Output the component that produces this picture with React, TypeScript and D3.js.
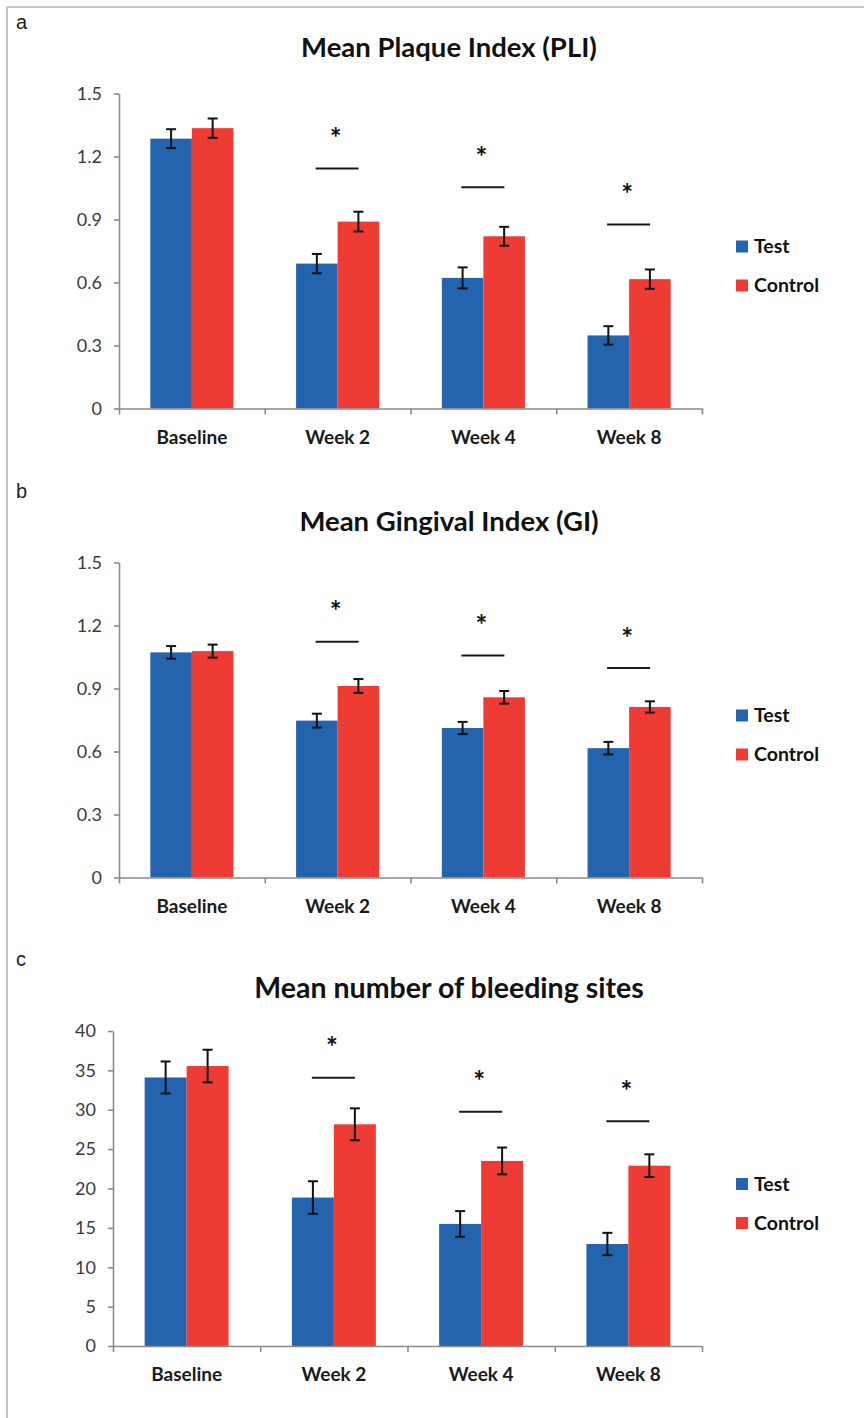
import React, { useEffect, useRef } from 'react';
import * as d3 from 'd3';

const WIDTH = 864;
const HEIGHT = 1418;
const FONT = 'Lato, "Open Sans", sans-serif';

const BLUE = '#2463ae';
const RED = '#ee3b33';

const categories = ['Baseline', 'Week 2', 'Week 4', 'Week 8'];
const seriesNames = ['Test', 'Control'];

// a: plaque index
const pliTest = [1.285, 0.69, 0.622, 0.348];
const pliTestErr = [0.045, 0.046, 0.05, 0.044];
const pliControl = [1.335, 0.89, 0.82, 0.616];
const pliControlErr = [0.046, 0.047, 0.045, 0.046];
const pliSig = [null, 1.143, 1.054, 0.876];
const pliTicks = [0, 0.3, 0.6, 0.9, 1.2, 1.5];

// b: gingival index
const giTest = [1.072, 0.747, 0.712, 0.616];
const giTestErr = [0.03, 0.033, 0.029, 0.03];
const giControl = [1.078, 0.912, 0.858, 0.812];
const giControlErr = [0.031, 0.033, 0.03, 0.027];
const giSig = [null, 1.123, 1.057, 0.998];
const giTicks = [0, 0.3, 0.6, 0.9, 1.2, 1.5];

// c: bleeding sites
const bleedTest = [34.1, 18.85, 15.5, 12.95];
const bleedTestErr = [2.03, 2.07, 1.63, 1.42];
const bleedControl = [35.55, 28.15, 23.5, 22.9];
const bleedControlErr = [2.07, 2.03, 1.7, 1.44];
const bleedSig = [null, 34.07, 29.75, 28.53];
const bleedTicks = [0, 5, 10, 15, 20, 25, 30, 35, 40];

const panels = [
  {
    letter: 'a', title: 'Mean Plaque Index (PLI)',
    test: pliTest, testErr: pliTestErr, control: pliControl, controlErr: pliControlErr,
    sig: pliSig, ticks: pliTicks, fmt: (d) => (d === 0 ? '0' : d.toFixed(1)),
    letterY: 29, titleY: 57, top: 93.5, left: 119, titleSize: 27.5,
  },
  {
    letter: 'b', title: 'Mean Gingival Index (GI)',
    test: giTest, testErr: giTestErr, control: giControl, controlErr: giControlErr,
    sig: giSig, ticks: giTicks, fmt: (d) => (d === 0 ? '0' : d.toFixed(1)),
    letterY: 498, titleY: 531, top: 562.5, left: 119, titleSize: 27.5,
  },
  {
    letter: 'c', title: 'Mean number of bleeding sites',
    test: bleedTest, testErr: bleedTestErr, control: bleedControl, controlErr: bleedControlErr,
    sig: bleedSig, ticks: bleedTicks, fmt: (d) => String(d),
    letterY: 966, titleY: 998, top: 1031, left: 113, titleSize: 28.5,
  },
];

const PLOT_H = 315;
const RIGHT = 702;
const STAR_SIZE = 28;

export default function App() {
  const ref = useRef(null);

  useEffect(() => {
    const svg = d3.select(ref.current);
    svg.selectAll('*').remove();

    svg.append('rect').attr('width', WIDTH).attr('height', HEIGHT).attr('fill', '#fff');

    // frame
    svg.append('line').attr('x1', 7).attr('x2', WIDTH).attr('y1', 7).attr('y2', 7)
      .attr('stroke', '#c4c4c4').attr('stroke-width', 2);
    svg.append('line').attr('x1', 7).attr('x2', 7).attr('y1', 7).attr('y2', HEIGHT)
      .attr('stroke', '#c4c4c4').attr('stroke-width', 2);

    panels.forEach((p) => {
      const g = svg.append('g');
      const bottom = p.top + PLOT_H;
      const maxV = p.ticks[p.ticks.length - 1];

      const y = d3.scaleLinear().domain([0, maxV]).range([bottom, p.top]);
      const x = d3.scaleBand().domain(categories).range([p.left, RIGHT])
        .paddingInner(0.43).paddingOuter(0.215);
      const xs = d3.scaleBand().domain(seriesNames).range([0, x.bandwidth()]);
      const boundary = d3.scaleLinear().domain([0, categories.length]).range([p.left, RIGHT]);

      g.append('text').attr('x', 16).attr('y', p.letterY)
        .attr('font-family', 'Liberation Sans, Arial, sans-serif').attr('font-size', 20)
        .attr('fill', '#222').text(p.letter);

      g.append('text').attr('x', 449).attr('y', p.titleY).attr('text-anchor', 'middle')
        .attr('font-family', FONT).attr('font-weight', 'bold').attr('font-size', p.titleSize)
        .attr('fill', '#111').text(p.title);

      // bars
      const rows = categories.map((c, i) => ({
        c, i,
        vals: [
          { s: 'Test', v: p.test[i], e: p.testErr[i], color: BLUE },
          { s: 'Control', v: p.control[i], e: p.controlErr[i], color: RED },
        ],
      }));

      const groups = g.selectAll('.cat').data(rows).enter().append('g')
        .attr('transform', (d) => `translate(${x(d.c)},0)`);

      groups.selectAll('rect').data((d) => d.vals).enter().append('rect')
        .attr('x', (d) => xs(d.s))
        .attr('width', xs.bandwidth())
        .attr('y', (d) => y(d.v))
        .attr('height', (d) => y(0) - y(d.v))
        .attr('fill', (d) => d.color);

      const err = groups.selectAll('.err').data((d) => d.vals).enter().append('g')
        .attr('stroke', '#111').attr('stroke-width', 2);
      const cx = (d) => xs(d.s) + xs.bandwidth() / 2;
      err.append('line').attr('x1', cx).attr('x2', cx)
        .attr('y1', (d) => y(d.v + d.e)).attr('y2', (d) => y(d.v - d.e));
      err.append('line').attr('x1', (d) => cx(d) - 5).attr('x2', (d) => cx(d) + 5)
        .attr('y1', (d) => y(d.v + d.e)).attr('y2', (d) => y(d.v + d.e));
      err.append('line').attr('x1', (d) => cx(d) - 5).attr('x2', (d) => cx(d) + 5)
        .attr('y1', (d) => y(d.v - d.e)).attr('y2', (d) => y(d.v - d.e));

      // significance markers
      const sigRows = rows.filter((d) => p.sig[d.i] != null);
      const sg = g.selectAll('.sig').data(sigRows).enter().append('g');
      sg.append('line')
        .attr('x1', (d) => x(d.c) + x.bandwidth() / 2 - 22)
        .attr('x2', (d) => x(d.c) + x.bandwidth() / 2 + 21)
        .attr('y1', (d) => y(p.sig[d.i])).attr('y2', (d) => y(p.sig[d.i]))
        .attr('stroke', '#1a1a1a').attr('stroke-width', 2);
      sg.append('text')
        .attr('x', (d) => x(d.c) + x.bandwidth() / 2 - 2)
        .attr('y', (d) => y(p.sig[d.i]) - 36 + STAR_SIZE * 0.56)
        .attr('text-anchor', 'middle')
        .attr('font-family', FONT).attr('font-weight', 'bold').attr('font-size', STAR_SIZE)
        .attr('fill', '#111').text('*');

      // y axis
      const yAxis = g.append('g').attr('transform', `translate(${p.left},0)`)
        .call(d3.axisLeft(y).tickValues(p.ticks).tickFormat(p.fmt).tickSize(5).tickSizeOuter(0).tickPadding(12));
      yAxis.selectAll('path, line').attr('stroke', '#8a8a8a').attr('stroke-width', 1.6);
      yAxis.selectAll('text').attr('font-family', FONT).attr('font-size', 18).attr('fill', '#3a3a3a');

      // x axis
      const xAxis = g.append('g').attr('transform', `translate(0,${bottom})`)
        .call(d3.axisBottom(boundary).tickValues(d3.range(categories.length + 1)).tickFormat('').tickSize(6).tickSizeOuter(0));
      xAxis.selectAll('path, line').attr('stroke', '#8a8a8a').attr('stroke-width', 1.6);

      g.selectAll('.cl').data(categories).enter().append('text')
        .attr('x', (d) => x(d) + x.bandwidth() / 2)
        .attr('y', bottom + 35)
        .attr('text-anchor', 'middle')
        .attr('font-family', FONT).attr('font-weight', 'bold').attr('font-size', 19)
        .attr('fill', '#1a1a1a').text((d) => d);

      // legend
      const lg = g.selectAll('.lg').data(seriesNames).enter().append('g')
        .attr('transform', (d, i) => `translate(736,${p.top + 147 + i * 39})`);
      lg.append('rect').attr('width', 12).attr('height', 12)
        .attr('fill', (d, i) => (i === 0 ? BLUE : RED));
      lg.append('text').attr('x', 18).attr('y', 12.5)
        .attr('font-family', FONT).attr('font-weight', 'bold').attr('font-size', 19.5)
        .attr('fill', '#111').text((d) => d);
    });
  }, []);

  return (
    <svg
      ref={ref}
      width={WIDTH}
      height={HEIGHT}
      style={{ position: 'absolute', left: 0, top: 0, display: 'block' }}
    />
  );
}
